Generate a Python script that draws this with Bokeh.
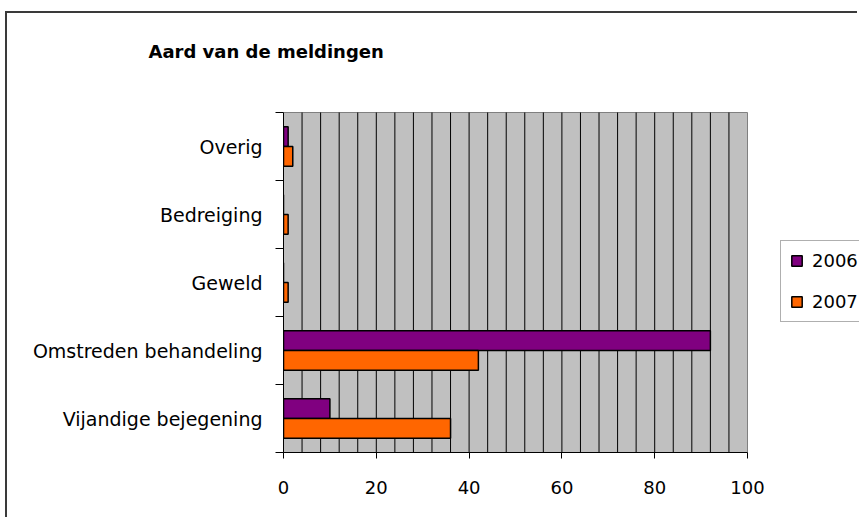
from bokeh.plotting import figure
from bokeh.models import Range1d, FixedTicker, Legend, LegendItem, ColumnDataSource
from bokeh.transform import dodge
from bokeh.embed import file_html
from bokeh.resources import INLINE

# ---- data ----
categories = ["Vijandige bejegening", "Omstreden behandeling", "Geweld", "Bedreiging", "Overig"]
values_2006 = [10, 92, 0, 0, 1]
values_2007 = [36, 42, 1, 1, 2]
series_names = ["2006", "2007"]
x_ticks = [0, 20, 40, 60, 80, 100]
grid_step = 4
title_text = "Aard van de meldingen"

pos = [i + 0.5 for i in range(len(categories))]
n_cat = len(categories)
x_max = x_ticks[-1]

# ---- geometry (pixels) ----
W, H = 852, 506
left_b, bottom_b, top_b = 276, 67, 67
plot_w, plot_h = 464, 340          # size of the grey plot area
frame_w = W - left_b
frame_h = H - bottom_b - top_b
x_end = x_max * frame_w / plot_w
y_end = n_cat * frame_h / plot_h

src = ColumnDataSource(dict(cat=categories, y=pos, v2006=values_2006, v2007=values_2007))

p = figure(width=W, height=H, output_backend="svg", toolbar_location=None,
           x_range=Range1d(0, x_end), y_range=Range1d(0, y_end),
           min_border=0, min_border_left=left_b, min_border_right=0,
           min_border_top=top_b, min_border_bottom=bottom_b)
p.margin = (11, 0, 0, 5)
p.styles = {"border-left": "2px solid #3a3a3a", "border-top": "2px solid #3a3a3a"}
p.background_fill_color = "white"
p.border_fill_color = "white"
p.outline_line_color = None
p.xgrid.visible = False
p.ygrid.visible = False

# grey plot area
p.quad(left=[0], right=[x_max], bottom=[0], top=[n_cat], fill_color="#C0C0C0",
       line_color="#808080", line_width=1)
# vertical grid lines
gx = list(range(grid_step, x_max, grid_step))
p.segment(x0=gx, y0=[0] * len(gx), x1=gx, y1=[n_cat] * len(gx),
          line_color="black", line_width=1)

r1 = p.hbar(y=dodge("y", 0.145, range=p.y_range), right="v2006", height=0.29, left=0,
            source=src, fill_color="#800080", line_color="black", line_width=1.5)
r2 = p.hbar(y=dodge("y", -0.145, range=p.y_range), right="v2007", height=0.29, left=0,
            source=src, fill_color="#FF6600", line_color="black", line_width=1.5)

# x axis
p.xaxis.ticker = FixedTicker(ticks=x_ticks)
p.xaxis.bounds = (0, x_max)
p.xaxis.major_tick_out = 6
p.xaxis.major_tick_in = 0
p.xaxis.minor_tick_out = 0
p.xaxis.minor_tick_in = 0
p.xaxis.axis_line_color = "black"
p.xaxis.major_tick_line_color = "black"
p.xaxis.major_label_text_font = "DejaVu Sans"
p.xaxis.major_label_text_font_size = "18px"
p.xaxis.major_label_text_color = "black"
p.xaxis.major_label_standoff = 22

# y axis
p.yaxis.ticker = FixedTicker(ticks=pos, minor_ticks=list(range(n_cat + 1)))
p.yaxis.bounds = (0, n_cat)
p.yaxis.major_label_overrides = {t: c for t, c in zip(pos, categories)}
p.yaxis.major_tick_line_color = None
p.yaxis.major_tick_out = 0
p.yaxis.major_tick_in = 0
p.yaxis.minor_tick_out = 8
p.yaxis.minor_tick_in = 0
p.yaxis.minor_tick_line_color = "black"
p.yaxis.axis_line_color = "black"
p.yaxis.major_label_text_font = "DejaVu Sans"
p.yaxis.major_label_text_font_size = "19px"
p.yaxis.major_label_text_color = "black"
p.yaxis.major_label_standoff = 13

# title
p.title.text = title_text
p.title.align = "left"
p.title.offset = -135
p.title.vertical_align = "top"
p.title.standoff = 34
p.title.text_font = "DejaVu Sans"
p.title.text_font_style = "bold"
p.title.text_font_size = "18px"
p.title.text_color = "black"

# legend (inside the wide frame, to the right of the grey area)
legend = Legend(items=[LegendItem(label=series_names[0], renderers=[r1]),
                       LegendItem(label=series_names[1], renderers=[r2])],
                location=(497, 130), orientation="vertical", padding=9, spacing=20,
                margin=0, glyph_width=13, glyph_height=13, label_height=20,
                label_standoff=9, label_text_font="DejaVu Sans",
                label_text_font_size="18px", label_text_color="black",
                border_line_color="#606060", border_line_width=1,
                background_fill_color="white", background_fill_alpha=1.0)
p.add_layout(legend)

open("out.html", "w").write(file_html(p, INLINE))
